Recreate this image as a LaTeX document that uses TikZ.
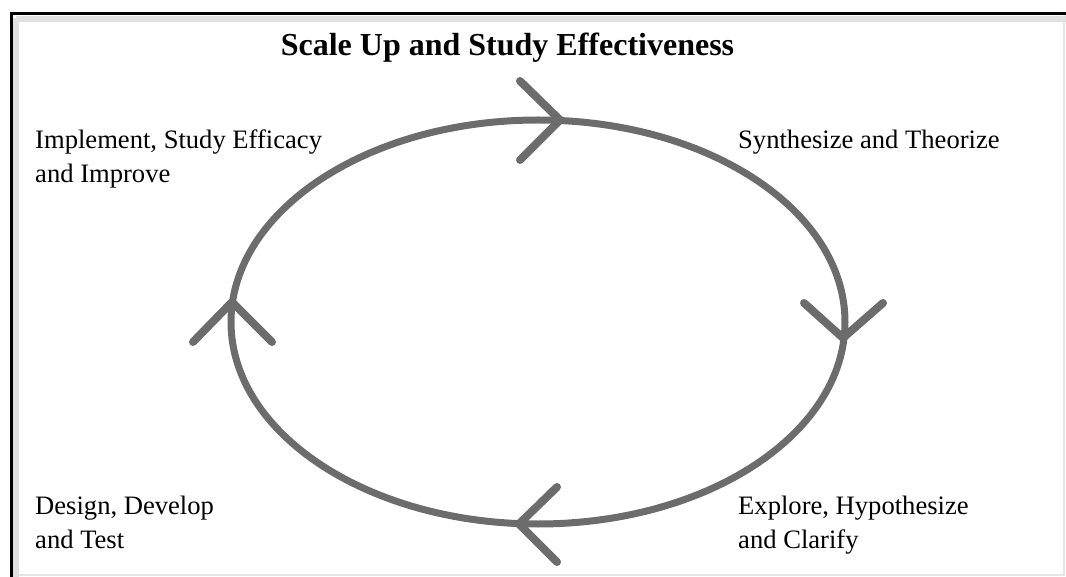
\documentclass[tikz,border=0pt]{standalone}
\usepackage{fontspec}
\setmainfont{Liberation Serif}
\usepackage{tikz}
\usetikzlibrary{shapes.geometric}
\definecolor{cyclegray}{RGB}{108,108,108}
\tikzset{
		cycle line/.style={draw=cyclegray, line width=7pt},
		chevron/.style={draw=cyclegray, line width=8pt, line cap=round, line join=round},
		phase/.style={align=left, font=\fontsize{26.6}{34}\selectfont, inner sep=0pt},
		heading/.style={font=\fontsize{32}{38}\selectfont\bfseries, inner sep=0pt}
	}

\begin{document}
\begin{tikzpicture}[x=1pt, y=-1pt]
				\useasboundingbox (0,0) rectangle (1066,577);
				% frame
				\draw[black!10, line width=2pt] (1064,14) -- (1064,575) -- (11,575);
				\draw[black!12, line width=6pt] (16,19) -- (1066,19);
				\draw[black!12, line width=6pt] (16,18) -- (16,577);
				\draw[black, line width=3pt] (11,577) -- (11,14) -- (1066,14);
				% cycle
				\node[cycle line, ellipse, minimum width=614pt, minimum height=404pt, inner sep=0pt] (loop) at (538,322) {};
				\coordinate (tipN) at (560,120);
				\coordinate (tipE) at (843,338);
				\coordinate (tipS) at (519,524);
				\coordinate (tipW) at (232,302);
				\draw[chevron] (tipN) ++(-40,-39) -- (tipN) -- ++(-40,40);
				\draw[chevron] (tipE) ++(-39,-35) -- (tipE) -- ++(40,-35);
				\draw[chevron] (tipS) ++(38,-37) -- (tipS) -- ++(38,38);
				\draw[chevron] (tipW) ++(-39,40) -- (tipW) -- ++(40,40);
				% labels
				\node[heading, anchor=base] (title) at (507.5,56) {Scale Up and Study Effectiveness};
				\node[phase, anchor=base west] (implement) at (35,183) {Implement, Study Efficacy\\and Improve};
				\node[phase, anchor=base west] (synth) at (738,149) {Synthesize and Theorize};
				\node[phase, anchor=base west] (explore) at (738,548) {Explore, Hypothesize\\and Clarify};
				\node[phase, anchor=base west] (design) at (35,548) {Design, Develop\\and Test};
			\end{tikzpicture}
\end{document}
